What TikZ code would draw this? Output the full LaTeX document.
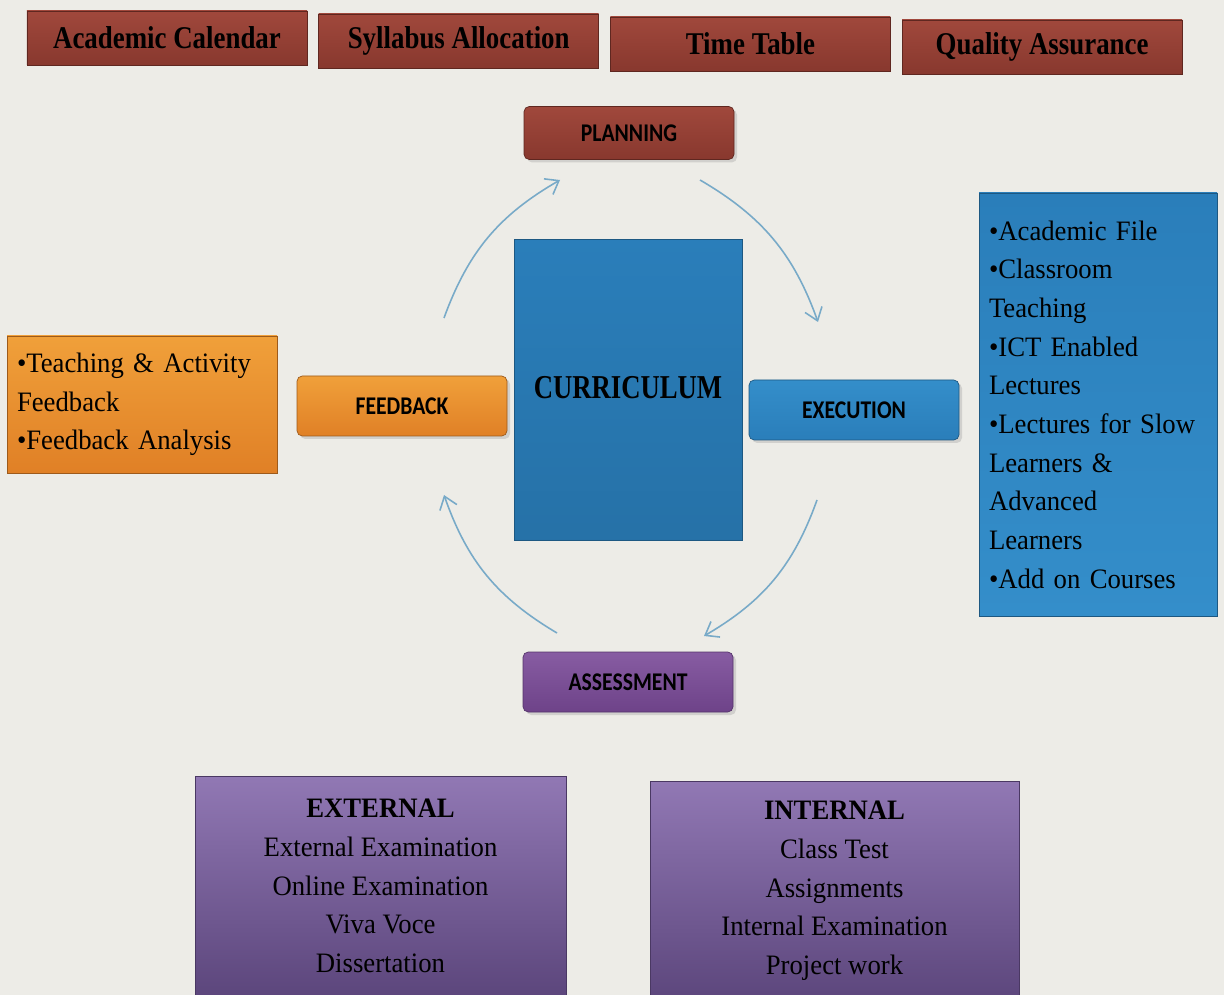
\documentclass[tikz,border=0pt]{standalone}
\usepackage{fontspec}
\setmainfont{Liberation Serif}[FakeStretch=0.95]
\newfontfamily\headfont{Liberation Serif}[FakeStretch=0.85]
\newfontfamily\stagefont{Carlito}[FakeStretch=0.85]
\newfontfamily\corefont{Liberation Serif}[FakeStretch=0.8]
\usetikzlibrary{positioning,shadows,arrows.meta}

\definecolor{paper}{RGB}{237,236,231}
\definecolor{brickA}{RGB}{160,72,60}
\definecolor{brickB}{RGB}{136,56,46}
\definecolor{skyA}{RGB}{42,126,186}
\definecolor{skyB}{RGB}{52,142,202}
\definecolor{amberA}{RGB}{240,160,58}
\definecolor{amberB}{RGB}{224,128,38}
\definecolor{plumA}{RGB}{145,120,180}
\definecolor{plumB}{RGB}{92,70,124}
\definecolor{violet}{RGB}{122,74,152}
\definecolor{flow}{RGB}{120,170,200}

\begin{document}
\begin{tikzpicture}[
  headbox/.style={draw=brickB!70!black, top color=brickA, bottom color=brickB,
    minimum width=5.6cm, minimum height=1.08cm,
    font=\fontsize{18}{20}\selectfont\headfont\bfseries},
  stagebox/.style={rounded corners=3pt, minimum width=4.2cm, minimum height=1.2cm,
    font=\fontsize{14.5}{16}\selectfont\stagefont\bfseries,
    drop shadow={opacity=0.25,shadow xshift=0.6mm,shadow yshift=-0.6mm}},
  listbox/.style={align=left, inner xsep=0.2cm,
    font=\fontsize{16}{22}\selectfont},
  evalbox/.style={top color=plumA, bottom color=plumB, draw=plumB!80!black,
    align=center, minimum height=4.4cm, font=\fontsize{16}{22}\selectfont},
  cyclearrow/.style={->, >={Straight Barb[length=2.4mm,width=3.6mm]},
    draw=flow, line width=0.9pt}
]
\fill[paper] (0,0) rectangle (24.48,-19.9);
\useasboundingbox (0,0) rectangle (24.48,-19.9);

% top row
\node[headbox] (cal) at (3.34,-0.76) {Academic Calendar};
\node[headbox, right=0.22cm of cal, yshift=-0.06cm] (syl) {Syllabus Allocation};
\node[headbox, right=0.22cm of syl, yshift=-0.06cm] (tt) {Time Table};
\node[headbox, right=0.22cm of tt, yshift=-0.06cm] (qa) {Quality Assurance};

% cycle
\node[stagebox, top color=brickA, bottom color=brickB, draw=brickB!70!black, minimum height=1.06cm] (plan) at (12.58,-2.66) {PLANNING};
\node[top color=skyA, bottom color=skyA!90!black, draw=skyA!70!black, minimum width=4.56cm, minimum height=6.02cm,
  font=\fontsize{19}{22}\selectfont\corefont\bfseries] (cur) at (12.56,-7.8) {\raisebox{0.1cm}{CURRICULUM}};
\node[stagebox, top color=amberA, bottom color=amberB, draw=amberB!70!black] (fb) at (8.04,-8.12) {FEEDBACK};
\node[stagebox, top color=skyB, bottom color=skyA, draw=skyA!70!black] (exe) at (17.08,-8.2) {EXECUTION};
\node[stagebox, top color=violet!90!white, bottom color=violet!90!black, draw=violet!70!black] (ass) at (12.56,-13.64) {ASSESSMENT};

\coordinate (a1) at (8.88,-6.36);
\coordinate (a2) at (11.2,-3.6);
\coordinate (b1) at (14.0,-3.6);
\coordinate (b2) at (16.36,-6.44);
\coordinate (c1) at (16.34,-10.0);
\coordinate (c2) at (14.08,-12.72);
\coordinate (d1) at (11.14,-12.66);
\coordinate (d2) at (8.88,-9.9);
\draw[cyclearrow] (a1) to[bend left=20] (a2);
\draw[cyclearrow] (b1) to[bend left=20] (b2);
\draw[cyclearrow] (c1) to[bend left=20] (c2);
\draw[cyclearrow] (d1) to[bend left=20] (d2);

% side lists
\node[listbox, top color=amberA, bottom color=amberB, draw=amberB!70!black,
  text width=5.0cm, minimum height=2.74cm] (fblist) at (2.84,-8.09)
  {\textbullet Teaching \& Activity\\Feedback\\\textbullet Feedback Analysis};
\node[listbox, top color=skyA, bottom color=skyB, draw=skyA!70!black,
  text width=4.36cm, minimum height=8.46cm] (exelist) at (21.96,-8.09)
  {\textbullet Academic File\\\textbullet Classroom\\Teaching\\\textbullet ICT Enabled\\Lectures\\
   \textbullet Lectures for Slow\\Learners \&\\Advanced\\Learners\\\textbullet Add on Courses};

% assessment types
\node[evalbox, minimum width=7.42cm] (ext) at (7.61,-17.72)
  {\textbf{EXTERNAL}\\External Examination\\Online Examination\\Viva Voce\\Dissertation};
\node[evalbox, minimum width=7.38cm] (int) at (16.69,-17.82)
  {\textbf{INTERNAL}\\Class Test\\Assignments\\Internal Examination\\Project work};
\end{tikzpicture}
\end{document}
